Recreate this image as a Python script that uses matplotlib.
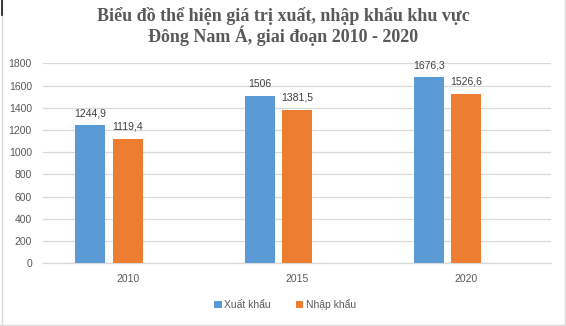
import matplotlib
matplotlib.use("Agg")
import matplotlib.pyplot as plt
import numpy as np
from matplotlib.lines import Line2D

categories = ["2010", "2015", "2020"]
series_names = ["Xuất khẩu", "Nhập khẩu"]
xuat_khau = [1244.9, 1506, 1676.3]
nhap_khau = [1119.4, 1381.5, 1526.6]
value_labels_xk = ["1244,9", "1506", "1676,3"]
value_labels_nk = ["1119,4", "1381,5", "1526,6"]
yticks = [0, 200, 400, 600, 800, 1000, 1200, 1400, 1600, 1800]
title_lines = ["Biểu đồ thể hiện giá trị xuất, nhập khẩu khu vực",
               "Đông Nam Á, giai đoạn 2010 - 2020"]

plt.rcParams['font.family'] = ['Liberation Sans', 'DejaVu Sans']
txt = "#595959"

fig = plt.figure(figsize=(5.66, 3.26), dpi=100)
ax = fig.add_axes([43/566, 1-263.3/326, (551-43)/566, 200/326])

x = np.arange(len(categories))
w = 0.177
step = 0.221
b1 = ax.bar(x - step, xuat_khau, w, color="#5B9BD5", label=series_names[0], zorder=3)
b2 = ax.bar(x, nhap_khau, w, color="#ED7D31", label=series_names[1], zorder=3)

for rect, lab in zip(b1, value_labels_xk):
    ax.annotate(lab, (rect.get_x() + rect.get_width()/2, rect.get_height()),
                xytext=(0, 5), textcoords="offset points", ha="center", va="bottom",
                fontsize=7.5, color="#404040")
for rect, lab in zip(b2, value_labels_nk):
    ax.annotate(lab, (rect.get_x() + rect.get_width()/2, rect.get_height()),
                xytext=(0, 5), textcoords="offset points", ha="center", va="bottom",
                fontsize=7.5, color="#404040")

ax.set_xlim(-0.5, len(categories) - 0.5)
ax.set_ylim(0, 1800)
ax.set_yticks(yticks)
ax.set_yticklabels([str(t) for t in yticks])
ax.set_xticks(x)
ax.set_xticklabels(categories)
ax.tick_params(axis="both", length=0, labelsize=7.5, colors=txt)
ax.tick_params(axis="y", pad=8)
ax.tick_params(axis="x", pad=8)
ax.grid(axis="y", color="#D9D9D9", linewidth=0.9, zorder=0)
for s in ["top", "right", "left"]:
    ax.spines[s].set_visible(False)
ax.spines["bottom"].set_color("#D9D9D9")
ax.spines["bottom"].set_linewidth(0.9)

for i, line in enumerate(title_lines):
    fig.text(283/566, 1 - (21 + 21*i)/326, line, ha="center", va="baseline", fontsize=13,
             fontweight="bold", color=txt, family=["Liberation Serif", "DejaVu Serif"])

leg = fig.legend(handles=[b1, b2], loc="center", bbox_to_anchor=(285/566, 1-304.5/326),
                 ncol=2, frameon=False, fontsize=7.5, handlelength=0.7, handleheight=0.7,
                 handletextpad=0.25, columnspacing=2.4)
for t in leg.get_texts():
    t.set_color(txt)

# chart border
fig.add_artist(Line2D([1.5/566, 1.5/566], [0, 1], transform=fig.transFigure, color="#D9D9D9", lw=1))
fig.add_artist(Line2D([1.5/566, 1.5/566], [1-15/326, 1], transform=fig.transFigure, color="#1a1a1a", lw=1.2))
fig.add_artist(Line2D([564.5/566, 564.5/566], [0, 1], transform=fig.transFigure, color="#D9D9D9", lw=1))
fig.add_artist(Line2D([0, 1], [1.5/326, 1.5/326], transform=fig.transFigure, color="#D9D9D9", lw=1))

fig.savefig("out.png", dpi=100)
